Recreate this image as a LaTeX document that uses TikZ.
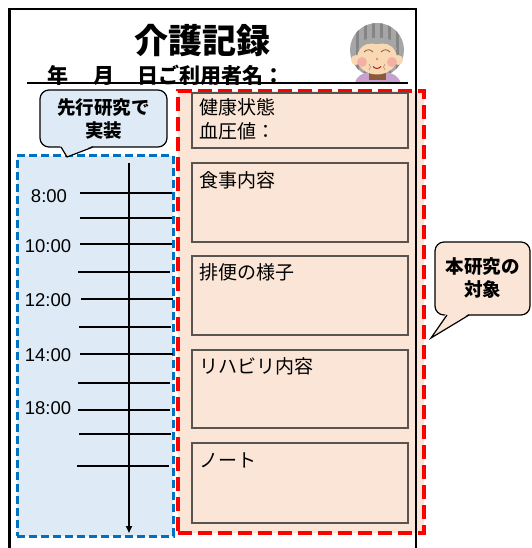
\documentclass[tikz,border=0pt]{standalone}
\usepackage{fontspec}
\setmainfont{Noto Sans CJK JP}
\newfontfamily\latinsans{Liberation Sans}
\usetikzlibrary{arrows.meta}
\definecolor{paleblue}{HTML}{DEEBF7}
\definecolor{regionblue}{HTML}{0070C0}
\definecolor{peach}{HTML}{FBE5D6}
\definecolor{regionred}{HTML}{FF0000}
\definecolor{boxgray}{HTML}{5A5450}
\definecolor{hairgray}{HTML}{A6A6A6}
\definecolor{hairdark}{HTML}{858585}
\definecolor{skin}{HTML}{F9D9B4}
\definecolor{cheek}{HTML}{F2A0A0}
\definecolor{robe}{HTML}{C8A2CF}
\definecolor{neck}{HTML}{8A5A3A}
\begin{document}
\begin{tikzpicture}[x=1pt,y=-1pt,
  frameline/.style={line width=2.8pt,black},
  blueregion/.style={draw=regionblue,fill=paleblue,line width=3pt,dash pattern=on 8pt off 4pt,minimum width=156pt,minimum height=380pt,inner sep=0pt},
  redregion/.style={draw=regionred,fill=peach,line width=4.5pt,dash pattern=on 14pt off 6pt,minimum width=246pt,minimum height=442pt,inner sep=0pt},
  itembox/.style={draw=boxgray,fill=peach,line width=1.3pt,minimum width=216pt,inner sep=0pt},
  itemtext/.style={anchor=west,inner sep=0pt,font=\fontsize{19}{24}\selectfont,align=left},
  callout/.style={draw=black,line width=1.2pt,rounded corners=9pt,inner sep=0pt,align=center,font=\fontsize{18.5}{23}\selectfont\bfseries},
  tick/.style={line width=2pt,black},
  axisline/.style={line width=1.8pt,black,-{Triangle[length=7pt,width=6pt]}},
  timelabel/.style={inner sep=0pt,font=\latinsans\fontsize{18.5}{20}\selectfont}
]
\useasboundingbox (0,0) rectangle (531,548);
\clip (0,0) rectangle (531,548);

% heading
\node (title) at (202.5,41) {\fontsize{34}{34}\selectfont\bfseries 介護記録};
\node[anchor=west,inner sep=0pt] (dateline) at (47,75) {\fontsize{21}{21}\selectfont\bfseries 年\hspace{25pt}月\hspace{23pt}日ご利用者名：};
\coordinate (ulL) at (27,83);
\coordinate (ulR) at (408,83);

% portrait of the resident
\begin{scope}
  \fill[hairgray] (377,50) ellipse (27 and 27);
  \begin{scope}
    \clip (377,50) ellipse (27 and 27);
    \foreach \sx in {356,364,372,380,388,396}
      \fill[hairdark] (\sx,20) rectangle ++(3,60);
  \end{scope}
  \fill[robe] (355,84) .. controls (356,76) and (362,73) .. (370,72) -- (385,72) .. controls (393,73) and (399,76) .. (401,84) -- cycle;
  \fill[neck] (369,72) rectangle (386,80);
  \fill[skin] (356,60) circle (5);
  \fill[skin] (398,60) circle (5);
  \fill[skin] (377,58) ellipse (20 and 16.5);
  \fill[hairgray] (358,50) .. controls (360,40) and (368,37) .. (377,38) .. controls (387,37) and (395,40) .. (397,50) .. controls (392,44) and (386,43) .. (377,44) .. controls (368,43) and (362,44) .. (358,50) -- cycle;
  \fill[cheek,opacity=0.7] (362,62) circle (5);
  \fill[cheek,opacity=0.7] (392,62) circle (5);
  \draw[neck,line width=0.8pt] (364,52) .. controls (367,49) and (370,49) .. (373,52);
  \draw[neck,line width=0.8pt] (381,52) .. controls (384,49) and (387,49) .. (390,52);
  \fill[cheek!80!red] (377,59) circle (1.3);
  \draw[neck!70,line width=0.5pt] (369,64) .. controls (371,66) and (371,68) .. (369,70);
  \draw[neck!70,line width=0.5pt] (385,64) .. controls (383,66) and (383,68) .. (385,70);
  \draw[red!70!black,line width=0.9pt] (373,66.5) .. controls (375,69) and (379,69) .. (381,66.5);
\end{scope}
\draw[line width=1.3pt] (ulL) -- (ulR);

% earlier work: time axis region
\node[blueregion] (prior) at (95,346) {};
\node[callout,fill=paleblue,minimum width=127pt,minimum height=57pt] (priorcall) at (103.5,118.5) {先行研究で\\実装};
\coordinate (priortip) at (67,157);
\fill[paleblue] (60,145.6) -- (priortip) -- (93,145.6) -- cycle;
\draw[line width=1.2pt,line join=miter] (61,147) -- (priortip) -- (93,147);

\coordinate (axtop) at (129,163);
\coordinate (axend) at (129,533);
\draw[axisline] (axtop) -- (axend);
\foreach \ty/\ta/\tb in {193/80/172, 218/80/172, 244/80/172, 272/78/170, 299/81/173, 327/79/171, 354/80/173, 383/78/170, 410/78/170, 434/79/171, 466/77/169}
  \draw[tick] (\ta,\ty) -- (\tb,\ty);
\node[timelabel] (t8)  at (49,196) {8:00};
\node[timelabel] (t10) at (48,246) {10:00};
\node[timelabel] (t12) at (48,300) {12:00};
\node[timelabel] (t14) at (48,355) {14:00};
\node[timelabel] (t18) at (48,408) {18:00};

% this work: record items
\node[redregion] (target) at (301,312) {};
\node[itembox,minimum height=55pt] (health) at (300,120.5) {};
\node[itembox,minimum height=79pt] (meal) at (300,202.5) {};
\node[itembox,minimum height=79pt] (bowel) at (300,295.5) {};
\node[itembox,minimum height=78pt] (rehab) at (300,389) {};
\node[itembox,minimum height=80pt] (notes) at (300,483) {};
\node[itemtext] (healthtxt) at (199,119) {健康状態\\血圧値：};
\node[itemtext] (mealtxt) at (199,180) {食事内容};
\node[itemtext] (boweltxt) at (199,272) {排便の様子};
\node[itemtext] (rehabtxt) at (199,366) {リハビリ内容};
\node[itemtext] (notestxt) at (199,460) {ノート};

\node[callout,fill=peach,minimum width=95pt,minimum height=73pt] (targetcall) at (482.5,278.5) {本研究の\\対象};
\coordinate (targettip) at (431,338);
\fill[peach] (446,313.6) -- (targettip) -- (469,313.6) -- cycle;
\draw[line width=1.2pt,line join=miter] (447,315) -- (targettip) -- (469,315);

% sheet outline
\draw[frameline] (9.5,560) -- (9.5,9) -- (416,9) -- (416,560);
\end{tikzpicture}
\end{document}
